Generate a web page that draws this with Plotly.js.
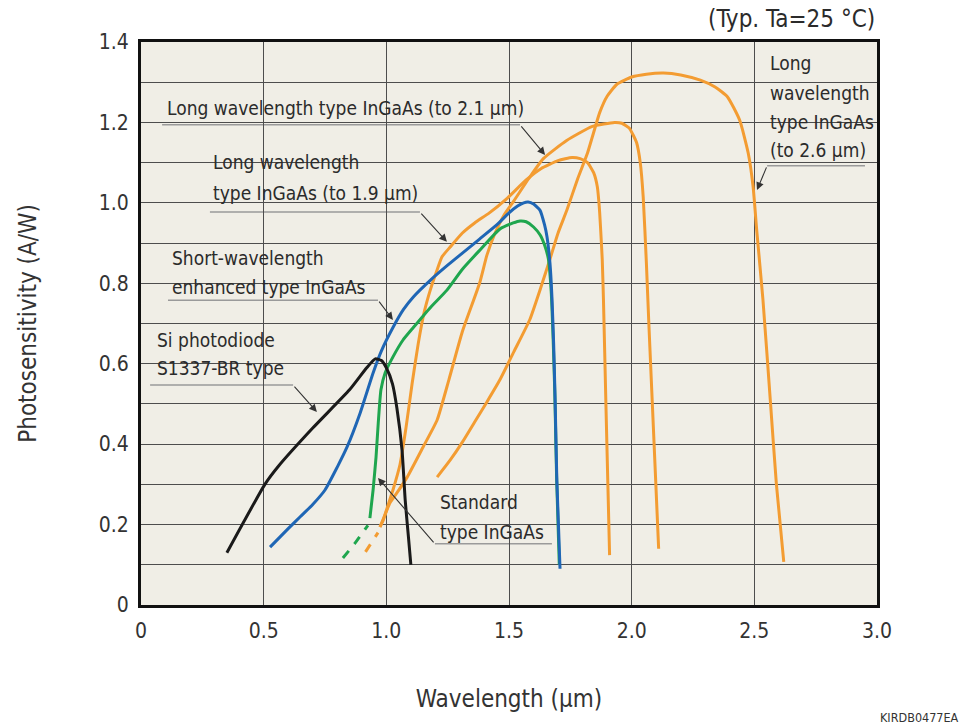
<!DOCTYPE html>
<html>
<head>
<meta charset="utf-8">
<script src="https://cdn.plot.ly/plotly-3.0.1.min.js"></script>
<style>html,body{margin:0;padding:0;background:#fff;}#chart{width:960px;height:726px;}</style>
</head>
<body>
<div id="chart"></div>
<script>
// ---- data (wavelength in µm, photosensitivity in A/W) ----
const siX = [0.35,0.505,0.56,0.70,0.85,0.92,0.955,0.98,1.0,1.025,1.043,1.064,1.077,1.09,1.10];
const siY = [0.13,0.30,0.345,0.44,0.535,0.59,0.612,0.608,0.59,0.55,0.49,0.385,0.26,0.17,0.10];

const shortX = [0.526,0.60,0.65,0.70,0.75,0.80,0.84,0.893,0.946,0.98,1.027,1.07,1.11,1.18,1.25,1.31,1.38,1.45,1.50,1.535,1.56,1.578,1.60,1.626,1.645,1.655,1.667,1.675,1.682,1.688,1.695,1.708];
const shortY = [0.144,0.19,0.22,0.25,0.286,0.343,0.393,0.477,0.577,0.632,0.69,0.735,0.766,0.808,0.845,0.875,0.91,0.945,0.975,0.992,1.0,1.002,0.997,0.982,0.945,0.915,0.85,0.766,0.65,0.51,0.31,0.09];

const stdDashX = [0.823,0.87,0.925];
const stdDashY = [0.117,0.152,0.198];
const stdX = [0.933,0.946,0.958,0.967,0.978,0.995,1.027,1.068,1.11,1.18,1.247,1.31,1.382,1.463,1.517,1.545,1.57,1.60,1.627,1.645,1.66,1.672,1.68,1.687,1.694,1.705];
const stdY = [0.216,0.286,0.368,0.452,0.535,0.577,0.617,0.659,0.69,0.74,0.783,0.835,0.883,0.935,0.95,0.955,0.953,0.94,0.92,0.895,0.862,0.78,0.66,0.52,0.32,0.10];

const longDashX = [0.915,0.966];
const longDashY = [0.132,0.18];

const l19X = [0.974,0.987,1.0,1.027,1.056,1.08,1.105,1.13,1.155,1.18,1.205,1.227,1.26,1.31,1.36,1.42,1.49,1.57,1.63,1.70,1.757,1.79,1.82,1.845,1.86,1.868,1.873,1.88,1.885,1.895,1.903,1.91];
const l19Y = [0.194,0.21,0.235,0.286,0.35,0.44,0.55,0.65,0.73,0.785,0.83,0.866,0.89,0.925,0.95,0.975,1.01,1.057,1.085,1.105,1.113,1.11,1.10,1.075,1.04,0.99,0.94,0.86,0.76,0.50,0.30,0.124];

const l21X = [0.974,0.995,1.015,1.05,1.085,1.15,1.207,1.255,1.31,1.38,1.41,1.44,1.48,1.52,1.58,1.64,1.735,1.84,1.93,1.96,1.99,2.005,2.02,2.035,2.047,2.06,2.07,2.09,2.11];
const l21Y = [0.194,0.225,0.254,0.285,0.318,0.393,0.46,0.56,0.68,0.80,0.87,0.92,0.97,1.005,1.06,1.11,1.155,1.19,1.20,1.198,1.186,1.17,1.15,1.10,1.015,0.85,0.70,0.42,0.14];

const l26X = [1.207,1.26,1.31,1.36,1.41,1.463,1.52,1.585,1.63,1.667,1.70,1.736,1.78,1.82,1.845,1.87,1.90,1.94,2.0,2.06,2.13,2.2,2.28,2.34,2.39,2.44,2.475,2.495,2.51,2.535,2.565,2.59,2.62];
const l26Y = [0.318,0.36,0.405,0.455,0.505,0.56,0.63,0.71,0.79,0.86,0.925,0.982,1.06,1.124,1.175,1.225,1.265,1.295,1.313,1.32,1.323,1.318,1.305,1.288,1.264,1.206,1.124,1.04,0.93,0.76,0.51,0.30,0.107];

const xTickVals = [0,0.5,1.0,1.5,2.0,2.5,3.0];
const xTickText = ['0','0.5','1.0','1.5','2.0','2.5','3.0'];
const yTickVals = [0,0.1,0.2,0.3,0.4,0.5,0.6,0.7,0.8,0.9,1.0,1.1,1.2,1.3,1.4];
const yTickText = ['0','','0.2','','0.4','','0.6','','0.8','','1.0','','1.2','','1.4'];

// ---- styles ----
const ORANGE = '#f39c32', BLUE = '#1f66b5', GREEN = '#1fa64e', BLACK = '#1a1a1a';
const FONT = '"DejaVu Sans Condensed", "Liberation Sans Narrow", "DejaVu Sans", sans-serif';
const BG = '#f0eee6';
const LW = 3;

function tr(x, y, color, dash) {
  return {x: x, y: y, type: 'scatter', mode: 'lines', hoverinfo: 'skip',
          line: {color: color, width: LW, dash: dash || 'solid', shape: 'spline', smoothing: 0.5}};
}

const traces = [
  tr(longDashX, longDashY, ORANGE, 'dash'),
  tr(l26X, l26Y, ORANGE),
  tr(l21X, l21Y, ORANGE),
  tr(l19X, l19Y, ORANGE),
  tr(stdDashX, stdDashY, GREEN, 'dash'),
  tr(stdX, stdY, GREEN),
  tr(shortX, shortY, BLUE),
  tr(siX, siY, BLACK)
];

// label boxes (mask grid), underlines
function mask(x0, x1, y0, y1) {
  return {type: 'rect', xref: 'x', yref: 'y', x0: x0, x1: x1, y0: y0, y1: y1,
          fillcolor: BG, line: {width: 0}, layer: 'below'};
}
function uline(x0, x1, y) {
  return {type: 'line', xref: 'x', yref: 'y', x0: x0, x1: x1, y0: y, y1: y,
          line: {color: '#9a9a9a', width: 1.5}, layer: 'below'};
}
const shapes = [
  mask(0.078, 1.577, 1.190, 1.268),
  mask(0.261, 1.158, 0.982, 1.131),
  mask(0.098, 0.982, 0.763, 0.895),
  mask(0.037, 0.640, 0.552, 0.710),
  mask(1.186, 1.659, 0.150, 0.311),
  mask(2.523, 2.972, 1.094, 1.395),
  uline(0.086, 1.545, 1.194),
  uline(0.281, 1.137, 0.977),
  uline(0.110, 0.966, 0.758),
  uline(0.037, 0.620, 0.547),
  uline(1.198, 1.675, 0.152),
  uline(2.552, 2.951, 1.092)
];

function lab(text, x, y) {
  return {text: text, x: x, y: y, xref: 'x', yref: 'y', xanchor: 'left', yanchor: 'middle',
          showarrow: false, font: {size: 19, color: '#2b2b2b', family: FONT}};
}
function arrow(tx, ty, fx, fy) {
  return {x: tx, y: ty, ax: fx, ay: fy, xref: 'x', yref: 'y', axref: 'x', ayref: 'y',
          text: '', showarrow: true, arrowhead: 2, arrowsize: 1.4, arrowwidth: 1.1,
          arrowcolor: '#333', standoff: 0};
}

const annotations = [
  lab('Long wavelength type InGaAs (to 2.1 μm)', 0.098, 1.236),
  arrow(1.647, 1.119, 1.545, 1.194),

  lab('Long wavelength', 0.285, 1.101),
  lab('type InGaAs (to 1.9 μm)', 0.285, 1.024),
  arrow(1.247, 0.903, 1.137, 0.977),

  lab('Short-wavelength', 0.118, 0.863),
  lab('enhanced type InGaAs', 0.118, 0.791),
  arrow(1.027, 0.709, 0.966, 0.758),

  lab('Si photodiode', 0.057, 0.659),
  lab('S1337-BR type', 0.057, 0.589),
  arrow(0.717, 0.480, 0.620, 0.547),

  lab('Standard', 1.211, 0.256),
  lab('type InGaAs', 1.211, 0.181),
  arrow(0.966, 0.316, 1.198, 0.152),

  lab('Long', 2.556, 1.348),
  lab('wavelength', 2.556, 1.273),
  lab('type InGaAs', 2.556, 1.201),
  lab('(to 2.6 μm)', 2.556, 1.131),
  arrow(2.511, 1.032, 2.552, 1.092),

  {text: '(Typ. Ta=25 °C)', xref: 'paper', yref: 'paper', x: 1.0, y: 1.040,
   xanchor: 'right', yanchor: 'middle', showarrow: false,
   font: {size: 24, color: '#2b2b2b', family: FONT}},
  {text: 'KIRDB0477EA', xref: 'paper', yref: 'paper', x: 1.0015, y: -0.2007,
   xanchor: 'left', yanchor: 'middle', showarrow: false,
   font: {size: 12.5, color: '#333', family: FONT}}
];

const axisCommon = {
  showgrid: true, gridcolor: '#4d4d4d', gridwidth: 1,
  showline: true, mirror: true, linecolor: '#111', linewidth: 3,
  ticks: '', zeroline: false, automargin: false, fixedrange: true,
  tickfont: {size: 21, color: '#333', family: FONT}
};

const layout = {
  width: 960, height: 726,
  margin: {l: 141, r: 83, t: 42, b: 121},
  paper_bgcolor: '#ffffff', plot_bgcolor: BG,
  showlegend: false,
  font: {family: FONT, color: '#333'},
  xaxis: Object.assign({}, axisCommon, {
    range: [0, 3], tickmode: 'array', tickvals: xTickVals, ticktext: xTickText,
    ticklabelstandoff: 5,
    title: {text: 'Wavelength (μm)', font: {size: 24, color: '#333', family: FONT}, standoff: 48}
  }),
  yaxis: Object.assign({}, axisCommon, {
    range: [0, 1.4], tickmode: 'array', tickvals: yTickVals, ticktext: yTickText,
    ticklabelstandoff: 5,
    title: {text: 'Photosensitivity (A/W)', font: {size: 24, color: '#333', family: FONT}, standoff: 56}
  }),
  shapes: shapes,
  annotations: annotations
};

Plotly.newPlot('chart', traces, layout, {displayModeBar: false, staticPlot: true});
</script>
</body>
</html>
